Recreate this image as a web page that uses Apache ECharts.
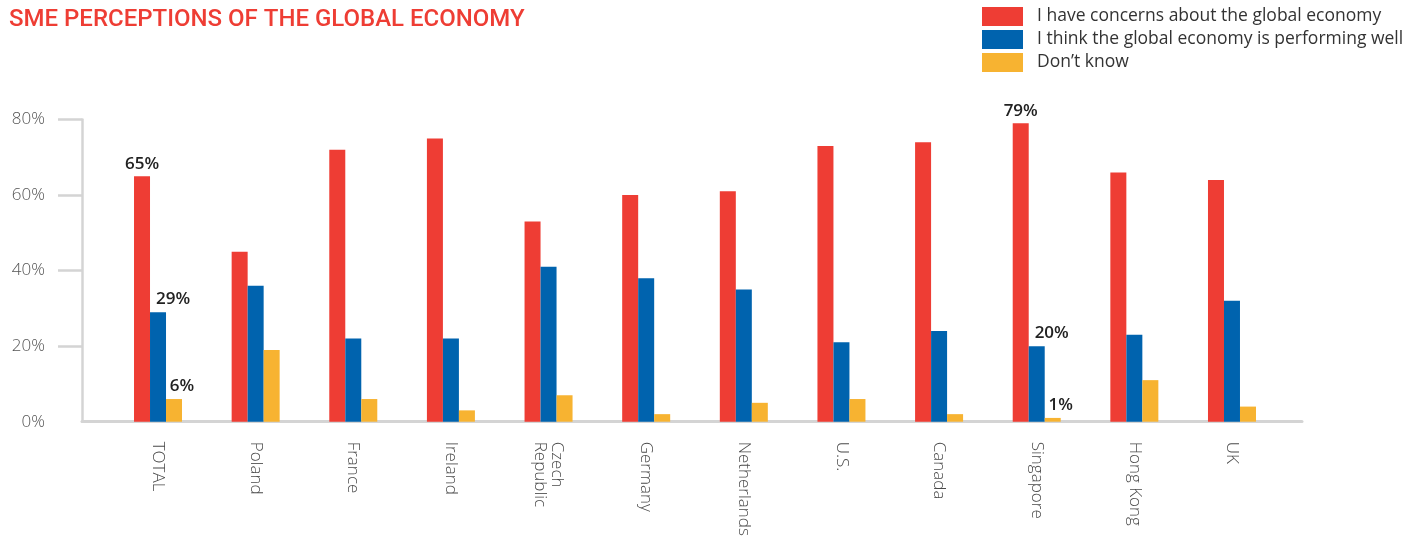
<!DOCTYPE html>
<html>
<head>
<meta charset="utf-8">
<title>SME perceptions of the global economy</title>
<script src="https://cdn.jsdelivr.net/npm/echarts@6/dist/echarts.min.js"></script>
<style>
  html, body { margin: 0; padding: 0; background: #ffffff; }
  #chart { width: 1421px; height: 540px; }
</style>
</head>
<body>
<div id="chart"></div>
<script>
// Survey answers by market (percent of SMEs)
const categories = ['TOTAL', 'Poland', 'France', 'Ireland', 'Czech\nRepublic', 'Germany',
  'Netherlands', 'U.S.', 'Canada', 'Singapore', 'Hong Kong', 'UK'];
const seriesNames = [
  'I have concerns about the global economy',
  'I think the global economy is performing well',
  'Don\u2019t know'
];
const concerns       = [65, 45, 72, 75, 53, 60, 61, 73, 74, 79, 66, 64];
const performingWell = [29, 36, 22, 22, 41, 38, 35, 21, 24, 20, 23, 32];
const dontKnow       = [6, 19, 6, 3, 7, 2, 5, 6, 2, 1, 11, 4];
// Markets whose bars carry a value label
const labeledCategories = ['TOTAL', 'Singapore'];
// Value axis ticks
const yTickValues = [0, 20, 40, 60, 80];
const yMarkValues = [20, 40, 60, 80];

const colors = ['#ee3d34', '#0063ae', '#f7b331'];
const labelShift = [0, 15, 8];

const chart = echarts.init(document.getElementById('chart'), null, { renderer: 'canvas' });

const axisGray = '#d4d4d4';
const textGray = '#555555';

function buildSeries(values, idx) {
  return {
    name: seriesNames[idx],
    type: 'bar',
    xAxisIndex: 1,
    yAxisIndex: 1,
    barWidth: 16,
    barGap: '0%',
    z: 3,
    itemStyle: { color: colors[idx] },
    label: {
      position: 'top',
      distance: 4,
      offset: [labelShift[idx], 0],
      formatter: '{c}%',
      color: '#222222',
      fontFamily: 'Open Sans',
      fontWeight: 600,
      fontSize: 17
    },
    data: values.map((v, i) => ({
      value: v,
      label: { show: labeledCategories.indexOf(categories[i]) !== -1 }
    }))
  };
}

const option = {
  backgroundColor: '#ffffff',
  animation: false,
  title: {
    text: 'SME PERCEPTIONS OF THE GLOBAL ECONOMY',
    left: 4,
    top: 3,
    textStyle: {
      color: '#ee3d34',
      fontFamily: 'Roboto',
      fontWeight: 500,
      fontSize: 24
    }
  },
  legend: {
    orient: 'vertical',
    left: 977,
    top: 2,
    itemWidth: 41,
    itemHeight: 19,
    itemGap: 4,
    icon: 'rect',
    data: seriesNames,
    textStyle: {
      color: '#333333',
      fontFamily: 'Open Sans',
      fontSize: 17.5,
      padding: [0, 0, 0, 9]
    }
  },
  grid: [
    // frame grid: carries the axis lines and value ticks
    { left: 82, right: 119, top: 119.5, bottom: 118.3 },
    // bar grid
    { left: 109.2, right: 140.2, top: 119.5, bottom: 118.3 }
  ],
  xAxis: [
    {
      type: 'category',
      gridIndex: 0,
      data: categories,
      axisLine: { show: true, lineStyle: { color: axisGray, width: 3 } },
      axisTick: { show: false },
      axisLabel: { show: false },
      splitLine: { show: false }
    },
    {
      type: 'category',
      gridIndex: 1,
      data: categories,
      axisLine: { show: false },
      axisTick: { show: false },
      splitLine: { show: false },
      axisLabel: {
        rotate: -90,
        margin: 20,
        interval: 0,
        color: '#4a4a4a',
        fontFamily: 'Open Sans',
        fontWeight: 300,
        fontSize: 17,
        lineHeight: 17
      }
    }
  ],
  yAxis: [
    {
      type: 'value',
      gridIndex: 0,
      min: 0,
      max: 80,
      interval: 20,
      axisLine: { show: true, lineStyle: { color: axisGray, width: 2.5 } },
      axisTick: {
        show: true,
        inside: false,
        length: 24,
        customValues: yMarkValues,
        lineStyle: { color: axisGray, width: 2.5 }
      },
      splitLine: { show: false },
      axisLabel: {
        customValues: yTickValues,
        formatter: '{value}%',
        margin: 37,
        color: textGray,
        fontFamily: 'Open Sans',
        fontWeight: 300,
        fontSize: 17
      }
    },
    {
      type: 'value',
      gridIndex: 1,
      min: 0,
      max: 80,
      interval: 20,
      show: false
    }
  ],
  series: [
    buildSeries(concerns, 0),
    buildSeries(performingWell, 1),
    buildSeries(dontKnow, 2)
  ]
};

chart.setOption(option);
</script>
</body>
</html>
